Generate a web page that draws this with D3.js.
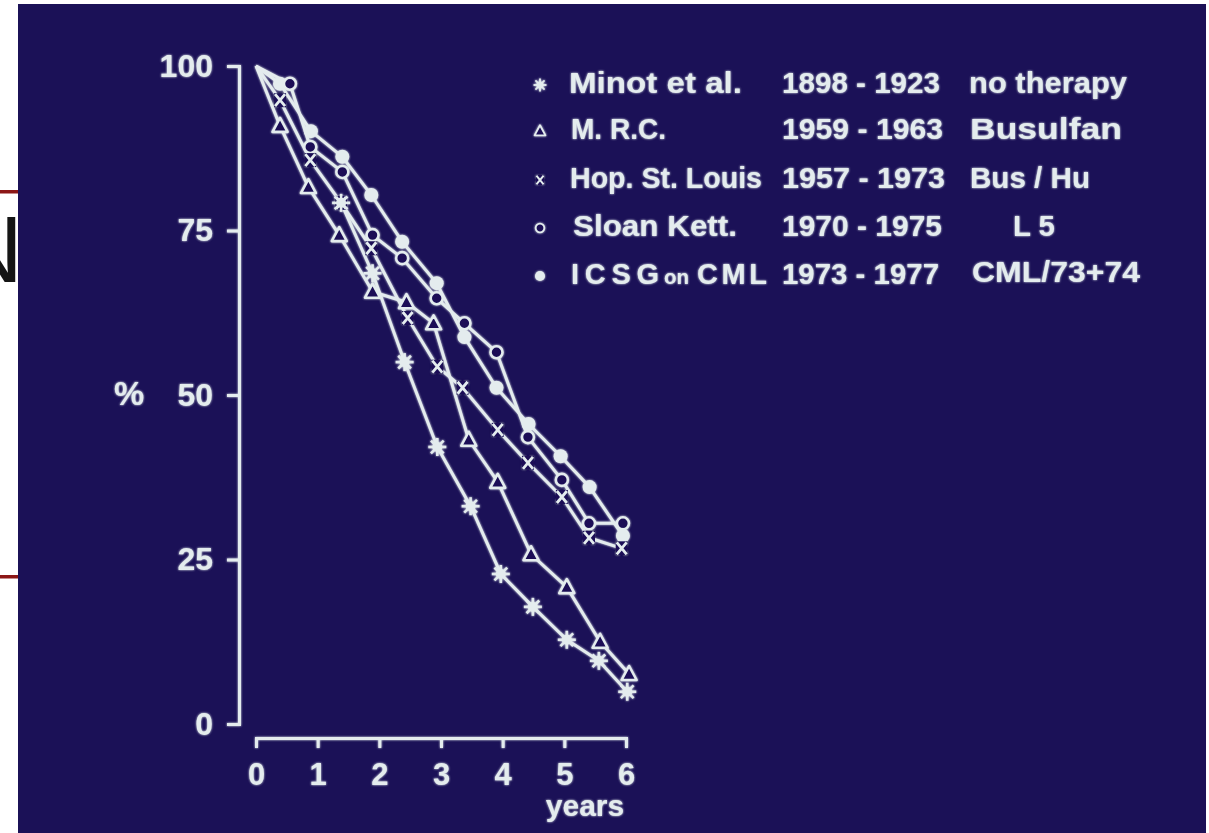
<!DOCTYPE html>
<html>
<head>
<meta charset="utf-8">
<script src="https://cdn.jsdelivr.net/npm/d3@7"></script>
<style>
  body { margin: 0; background: #fff; overflow: hidden; }
  svg text { font-family: "Liberation Sans", Arial, sans-serif; font-weight: bold; fill: #e4ecee; }
</style>
</head>
<body>
<div id="chart"></div>
<script>
// survival curves (years, % alive)
const minotYears = [1.38, 1.89, 2.41, 2.94, 3.48, 3.97, 4.49, 5.04, 5.56, 6.02]
const minotPct = [79.2, 68.5, 55.0, 42.1, 33.1, 22.8, 17.8, 12.8, 9.6, 4.9]

const mrcYears = [0, 0.39, 0.85, 1.35, 1.89, 2.44, 2.88, 3.45, 3.92, 4.46, 5.04, 5.58, 6.05]
const mrcPct = [100, 90.9, 81.6, 74.3, 65.7, 64.1, 60.9, 43.2, 36.8, 25.8, 20.8, 12.5, 7.6]

const hopYears = [0, 0.39, 0.88, 1.38, 1.87, 2.46, 2.94, 3.35, 3.92, 4.41, 4.96, 5.40, 5.93]
const hopPct = [100, 94.8, 85.7, 79.2, 72.3, 61.7, 54.3, 51.1, 44.7, 39.7, 34.5, 28.3, 26.7]

const sloanYears = [0, 0.55, 0.88, 1.40, 1.89, 2.37, 2.93, 3.38, 3.90, 4.41, 4.96, 5.40, 5.95]
const sloanPct = [100, 97.3, 87.7, 83.9, 74.3, 70.8, 64.7, 60.9, 56.5, 43.6, 37.1, 30.5, 30.5]

const icsgYears = [0, 0.39, 0.89, 1.40, 1.87, 2.37, 2.93, 3.38, 3.90, 4.42, 4.94, 5.41, 5.95]
const icsgPct = [100, 97.3, 90.1, 86.2, 80.4, 73.3, 67.0, 58.8, 51.1, 45.6, 40.7, 36.0, 28.6]

const yTicks = [0, 25, 50, 75, 100]
const xTicks = [0, 1, 2, 3, 4, 5, 6]

const legendNames = ['Minot  et  al.', 'M. R.C.', 'Hop. St. Louis', 'Sloan  Kett.', 'ICSG on CML']
const legendPeriods = ['1898 - 1923', '1959 - 1963', '1957 - 1973', '1970 - 1975', '1973 - 1977']
const legendTherapies = ['no  therapy', 'Busulfan', 'Bus / Hu', 'L 5', 'CML/73+74']

let w = 1209,
  h = 833,
  bg = '#1b1157',
  ink = '#e4ecee';

let svg = d3.select('#chart')
  .append('svg')
  .attr('width', w)
  .attr('height', h);

let defs = svg.append('defs');
let glow = defs.append('filter').attr('id', 'glow')
  .attr('x', '-5%').attr('y', '-5%').attr('width', '110%').attr('height', '110%');
glow.append('feGaussianBlur').attr('stdDeviation', 1.3).attr('result', 'b');
let merge = glow.append('feMerge');
merge.append('feMergeNode').attr('in', 'b');
merge.append('feMergeNode').attr('in', 'SourceGraphic');

// the page behind the projected slide
[192, 577].forEach(yy => {
  svg.append('rect')
    .attr('x', 0).attr('y', yy - 2)
    .attr('width', 20).attr('height', 3.5)
    .attr('fill', '#8c1717');
});
svg.append('text')
  .attr('x', 23)
  .attr('y', 282)
  .attr('text-anchor', 'end')
  .style('font-weight', 300)
  .style('font-size', '94px')
  .style('fill', '#151515')
  .text('N');

// the slide itself
svg.append('rect')
  .attr('x', 18).attr('y', 4)
  .attr('width', 1188).attr('height', h)
  .attr('fill', bg);

let g = svg.append('g').attr('filter', 'url(#glow)');

let x = d3.scaleLinear().domain([0, 6]).range([256, 626]);
let y = d3.scaleLinear().domain([0, 100]).range([724, 66]);

// axes
let yAxis = g.append('g')
  .attr('transform', 'translate(239,0)')
  .call(d3.axisLeft(y).tickValues(yTicks).tickSizeInner(12).tickSizeOuter(12).tickPadding(14));

let xAxis = g.append('g')
  .attr('transform', 'translate(0,738)')
  .call(d3.axisBottom(x).tickValues(xTicks).tickFormat(d3.format('d'))
    .tickSizeInner(10).tickSizeOuter(10).tickPadding(15));

[yAxis, xAxis].forEach(ax => {
  ax.selectAll('path, line').attr('stroke', ink).attr('stroke-width', 3);
  ax.selectAll('text').style('font-size', '31px').attr('fill', ink);
});
yAxis.selectAll('text').style('font-size', '32px');

g.append('text')
  .attr('x', 129).attr('y', 405)
  .attr('text-anchor', 'middle')
  .style('font-size', '34px')
  .text('%');

g.append('text')
  .attr('x', 585).attr('y', 816)
  .attr('text-anchor', 'middle')
  .style('font-size', '30px')
  .text('years');

// series
let series = [
  { years: icsgYears, pct: icsgPct, mark: 'dot' },
  { years: sloanYears, pct: sloanPct, mark: 'ring' },
  { years: hopYears, pct: hopPct, mark: 'cross' },
  { years: mrcYears, pct: mrcPct, mark: 'tri' },
  { years: minotYears, pct: minotPct, mark: 'star' }
];

let line = d3.line().x(d => x(d[0])).y(d => y(d[1]));

series.forEach(s => {
  let pts = s.years.map((yr, i) => [yr, s.pct[i]]);
  g.append('path')
    .datum(pts)
    .attr('d', line)
    .attr('fill', 'none')
    .attr('stroke', ink)
    .attr('stroke-width', 3)
    .attr('stroke-linejoin', 'round');
});

function drawMark(sel, type, cx, cy, k) {
  let m = sel.append('g').attr('transform', `translate(${cx},${cy}) scale(${k})`);
  if (type === 'dot') {
    m.append('circle').attr('r', 7).attr('fill', ink);
  } else if (type === 'ring') {
    m.append('circle').attr('r', 6).attr('fill', bg).attr('stroke', ink).attr('stroke-width', 2.6);
  } else if (type === 'cross') {
    m.append('rect').attr('x', -6).attr('y', -7).attr('width', 12).attr('height', 14).attr('fill', bg);
    m.append('path').attr('d', 'M-5,-6L5,6M5,-6L-5,6')
      .attr('stroke', ink).attr('stroke-width', 2.8).attr('fill', 'none');
  } else if (type === 'tri') {
    m.append('path').attr('d', 'M0,-8L7.5,6L-7.5,6Z')
      .attr('fill', bg).attr('stroke', ink).attr('stroke-width', 2.6).attr('stroke-linejoin', 'round');
  } else if (type === 'star') {
    [0, 45, 90, 135].forEach(a => {
      m.append('line')
        .attr('x1', -9).attr('x2', 9)
        .attr('transform', `rotate(${a})`)
        .attr('stroke', ink).attr('stroke-width', 2.6);
    });
    m.append('circle').attr('r', 5).attr('fill', ink);
  }
}

series.forEach(s => {
  s.years.forEach((yr, i) => {
    if (yr === 0) return; // common starting point has no marker
    drawMark(g, s.mark, x(yr), y(s.pct[i]), 1);
  });
});

// legend
let legendMarks = ['star', 'tri', 'cross', 'ring', 'dot'];
let rowBase = [93, 139, 188, 236, 284];
let nameX = [569, 571, 570, 573, 571],
  nameW = [173, 95, 192, 164, 196];
let periodW = [158, 161, 163, 160, 157];
let therX = [969, 970, 970, 1013, 972],
  therW = [158, 152, 120, 42, 168];

function legendText(xx, yy, size, len, str) {
  return g.append('text').attr('x', xx).attr('y', yy)
    .style('font-size', size + 'px')
    .attr('textLength', len).attr('lengthAdjust', 'spacingAndGlyphs')
    .text(str);
}

legendNames.forEach((name, i) => {
  drawMark(g, legendMarks[i], 540, rowBase[i] - 8, 0.72);

  if (i === 4) {
    // "ICSG on CML" with the small "on"
    let parts = name.split(' ');
    legendText(571, rowBase[i], 29, 88, parts[0]).attr('lengthAdjust', 'spacing');
    legendText(664, rowBase[i], 20, 25, parts[1]);
    legendText(697, rowBase[i], 29, 70, parts[2]).attr('lengthAdjust', 'spacing');
  } else {
    legendText(nameX[i], rowBase[i], 29, nameW[i], name);
  }

  legendText(782, rowBase[i], 29, periodW[i], legendPeriods[i]);
  legendText(therX[i], rowBase[i] - (i === 4 ? 2 : 0), 29, therW[i], legendTherapies[i]);
});
</script>
</body>
</html>
